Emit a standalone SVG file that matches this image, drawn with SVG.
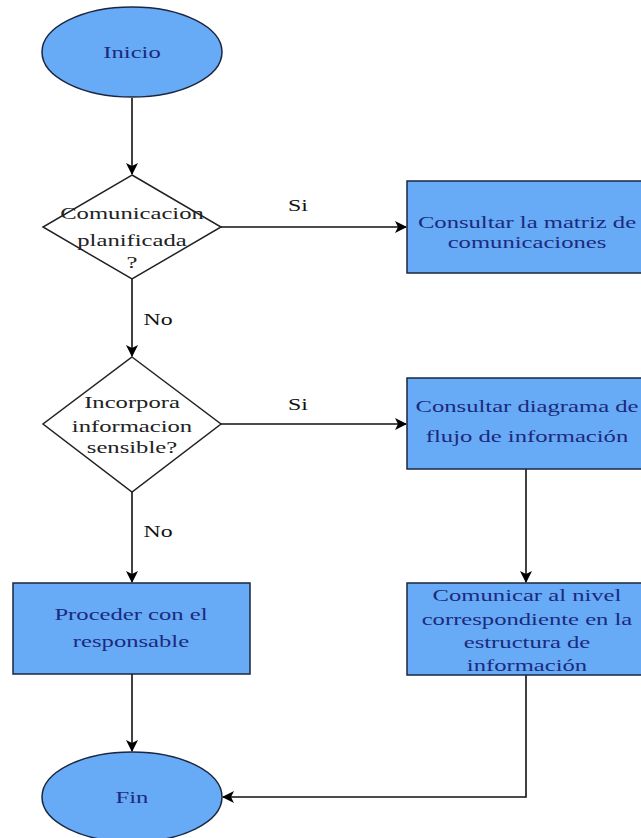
<svg xmlns="http://www.w3.org/2000/svg" width="641" height="838" viewBox="0 0 641 838">
<defs>
<marker id="arr" markerWidth="12" markerHeight="12" refX="11" refY="6" orient="auto" markerUnits="userSpaceOnUse">
<path d="M0,0 L12,6 L0,12 L3,6 Z" fill="#000"/>
</marker>
</defs>
<style>
.node{fill:#67abf6;stroke:#1b2640;stroke-width:1.5}
.dec{fill:#fff;stroke:#222;stroke-width:1.5}
.t{font-family:"Liberation Serif","Times New Roman",serif;font-size:17px;text-anchor:middle;fill:#1c2a7e}
.d{font-family:"Liberation Serif","Times New Roman",serif;font-size:17px;text-anchor:middle;fill:#222}
.l{font-family:"Liberation Serif","Times New Roman",serif;font-size:17px;text-anchor:middle;fill:#111}
.c{fill:none;stroke:#111;stroke-width:1.6}
</style>
<rect width="641" height="838" fill="#fff"/>
<g id="connectors">
<path class="c" d="M132,98 L132,174" marker-end="url(#arr)"/>
<path class="c" d="M220,227 L406,227" marker-end="url(#arr)"/>
<path class="c" d="M132,278 L132,356" marker-end="url(#arr)"/>
<path class="c" d="M220,424 L406,424" marker-end="url(#arr)"/>
<path class="c" d="M132,492 L132,582" marker-end="url(#arr)"/>
<path class="c" d="M526,469 L526,582" marker-end="url(#arr)"/>
<path class="c" d="M132,674 L132,751" marker-end="url(#arr)"/>
<path class="c" d="M526,675 L526,797 L223,797" marker-end="url(#arr)"/>
<text class="l" transform="translate(298,211) scale(1.4,1)">Si</text>
<text class="l" transform="translate(158,325) scale(1.4,1)">No</text>
<text class="l" transform="translate(298,410) scale(1.4,1)">Si</text>
<text class="l" transform="translate(158,537) scale(1.4,1)">No</text>
</g>
<g id="inicio">
<ellipse class="node" cx="132" cy="52" rx="90" ry="45"/>
<text class="t" transform="translate(132,58) scale(1.45,1)">Inicio</text>
</g>
<g id="decision1">
<polygon class="dec" points="132,175 221,227 132,279 43,227"/>
<text class="d" transform="translate(132,219) scale(1.45,1)">Comunicacion</text>
<text class="d" transform="translate(132,246) scale(1.45,1)">planificada</text>
<text class="d" transform="translate(132,268) scale(1.45,1)">?</text>
</g>
<g id="matriz">
<rect class="node" x="407" y="181" width="240" height="92"/>
<text class="t" transform="translate(527,228) scale(1.45,1)">Consultar la matriz de</text>
<text class="t" transform="translate(527,248) scale(1.45,1)">comunicaciones</text>
</g>
<g id="decision2">
<polygon class="dec" points="132,357 221,424 132,492 43,424"/>
<text class="d" transform="translate(132,408) scale(1.45,1)">Incorpora</text>
<text class="d" transform="translate(132,432) scale(1.45,1)">informacion</text>
<text class="d" transform="translate(132,453) scale(1.45,1)">sensible?</text>
</g>
<g id="diagrama">
<rect class="node" x="407" y="378" width="240" height="91"/>
<text class="t" transform="translate(527,412) scale(1.45,1)">Consultar diagrama de</text>
<text class="t" transform="translate(527,442) scale(1.45,1)">flujo de información</text>
</g>
<g id="proceder">
<rect class="node" x="13" y="583" width="237" height="91"/>
<text class="t" transform="translate(131,620) scale(1.45,1)">Proceder con el</text>
<text class="t" transform="translate(131,647) scale(1.45,1)">responsable</text>
</g>
<g id="comunicar">
<rect class="node" x="407" y="583" width="240" height="92"/>
<text class="t" transform="translate(527,601) scale(1.45,1)">Comunicar al nivel</text>
<text class="t" transform="translate(527,625) scale(1.45,1)">correspondiente en la</text>
<text class="t" transform="translate(527,648) scale(1.45,1)">estructura de</text>
<text class="t" transform="translate(527,671) scale(1.45,1)">información</text>
</g>
<g id="fin">
<ellipse class="node" cx="132" cy="797" rx="90" ry="45"/>
<text class="t" transform="translate(132,803) scale(1.45,1)">Fin</text>
</g>
</svg>
